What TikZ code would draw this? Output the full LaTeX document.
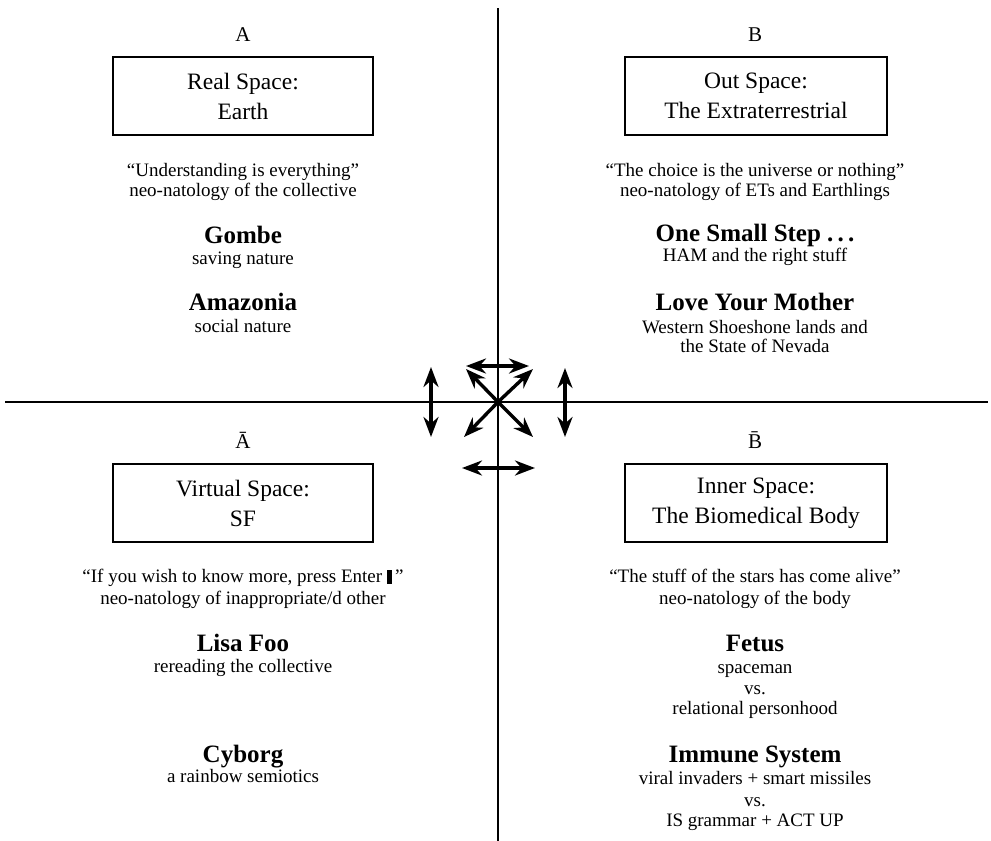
\documentclass[tikz,border=0pt]{standalone}
\usepackage{fontspec}
\setmainfont{Liberation Serif}
\usetikzlibrary{arrows.meta}
\begin{document}
\begin{tikzpicture}[x=1pt,y=-1pt,
  boxq/.style={draw, line width=1.1pt, minimum width=260pt, minimum height=78pt, align=center, inner sep=0pt, font=\fontsize{23.5}{30}\selectfont},
  lbl/.style={font=\fontsize{21}{24}\selectfont, text height=14.7pt, text depth=4.2pt, inner sep=0pt},
  quo/.style={font=\fontsize{19}{22}\selectfont, text height=13.3pt, text depth=3.8pt, inner sep=0pt},
  ttl/.style={font=\fontsize{25}{28}\selectfont\bfseries, text height=17pt, text depth=5pt, inner sep=0pt},
  sub/.style={font=\fontsize{19}{22}\selectfont, text height=13.3pt, text depth=3.8pt, inner sep=0pt},
  dbl/.style={line width=3.4pt, {Stealth[length=20pt,width=15pt]}-{Stealth[length=20pt,width=15pt]}},
  sgl/.style={line width=3.4pt, -{Stealth[length=20pt,width=15pt]}}
]
\useasboundingbox (0,0) rectangle (991,841);
% axes
\coordinate (vt) at (498,8);
\coordinate (vb) at (498,841);
\coordinate (hl) at (5,402);
\coordinate (hr) at (988,402);
\draw[line width=1.2pt] (vt) -- (vb);
\draw[line width=1.6pt] (hl) -- (hr);

% Quadrant A
\node[lbl] (la) at (243,36) {A};
\node[boxq] (boxa) at (243,96) {Real Space:\\Earth};
\node[quo] (qa1) at (243,172) {``Understanding is everything''};
\node[quo] (qa2) at (243,192) {neo-natology of the collective};
\node[ttl] (ta1) at (243,237) {Gombe};
\node[sub] (sa1) at (243,260) {saving nature};
\node[ttl] (ta2) at (243,304) {Amazonia};
\node[sub] (sa2) at (243,328) {social nature};

% Quadrant B
\node[lbl] (lb) at (755,36) {B};
\node[boxq, minimum width=262pt] (boxb) at (756,96) {Out Space:\\The Extraterrestrial};
\node[quo] (qb1) at (755,172) {``The choice is the universe or nothing''};
\node[quo] (qb2) at (755,192) {neo-natology of ETs and Earthlings};
\node[ttl] (tb1) at (755,235) {One Small Step .\,.\,.};
\node[sub] (sb1) at (755,257) {HAM and the right stuff};
\node[ttl] (tb2) at (755,304) {Love Your Mother};
\node[sub] (sb2) at (755,329) {Western Shoeshone lands and};
\node[sub] (sb3) at (755,348) {the State of Nevada};

% Quadrant A-bar
\node[lbl] (lab) at (243,443) {\=A};
\node[boxq] (boxab) at (243,503) {Virtual Space:\\SF};
\node[quo] (qc1) at (243,578) {``If you wish to know more, press Enter \rule[-1pt]{5pt}{14pt}\,''};
\node[quo] (qc2) at (243,600) {neo-natology of inappropriate/d other};
\node[ttl] (tc1) at (243,645) {Lisa Foo};
\node[sub] (sc1) at (243,668) {rereading the collective};
\node[ttl] (tc2) at (243,756) {Cyborg};
\node[sub] (sc2) at (243,778) {a rainbow semiotics};

% Quadrant B-bar
\node[lbl] (lbb) at (755,443) {\=B};
\node[boxq, minimum width=262pt] (boxbb) at (756,503) {Inner Space:\\The Biomedical Body};
\node[quo] (qd1) at (755,578) {``The stuff of the stars has come alive''};
\node[quo] (qd2) at (755,600) {neo-natology of the body};
\node[ttl] (td1) at (755,645) {Fetus};
\node[sub] (sd1) at (755,669) {spaceman};
\node[sub] (sd2) at (755,690) {vs.};
\node[sub] (sd3) at (755,710) {relational personhood};
\node[ttl] (td2) at (755,756) {Immune System};
\node[sub] (sd4) at (755,780) {viral invaders + smart missiles};
\node[sub] (sd5) at (755,802) {vs.};
\node[sub] (sd6) at (755,822) {IS grammar + ACT UP};

% central arrows
\coordinate (c) at (498,402);
\coordinate (tl) at (466,369);
\coordinate (tr) at (533,369);
\coordinate (bl) at (464,437);
\coordinate (br) at (533,437);
\draw[sgl] (c) -- (tl);
\draw[sgl] (c) -- (tr);
\draw[sgl] (c) -- (bl);
\draw[sgl] (c) -- (br);
\coordinate (h1l) at (466,366);
\coordinate (h1r) at (529,366);
\draw[dbl] (h1l) -- (h1r);
\coordinate (h2l) at (462,468);
\coordinate (h2r) at (535,468);
\draw[dbl] (h2l) -- (h2r);
\coordinate (v1t) at (431,367);
\coordinate (v1b) at (431,437);
\draw[dbl] (v1t) -- (v1b);
\coordinate (v2t) at (565,368);
\coordinate (v2b) at (565,437);
\draw[dbl] (v2t) -- (v2b);
\end{tikzpicture}
\end{document}
